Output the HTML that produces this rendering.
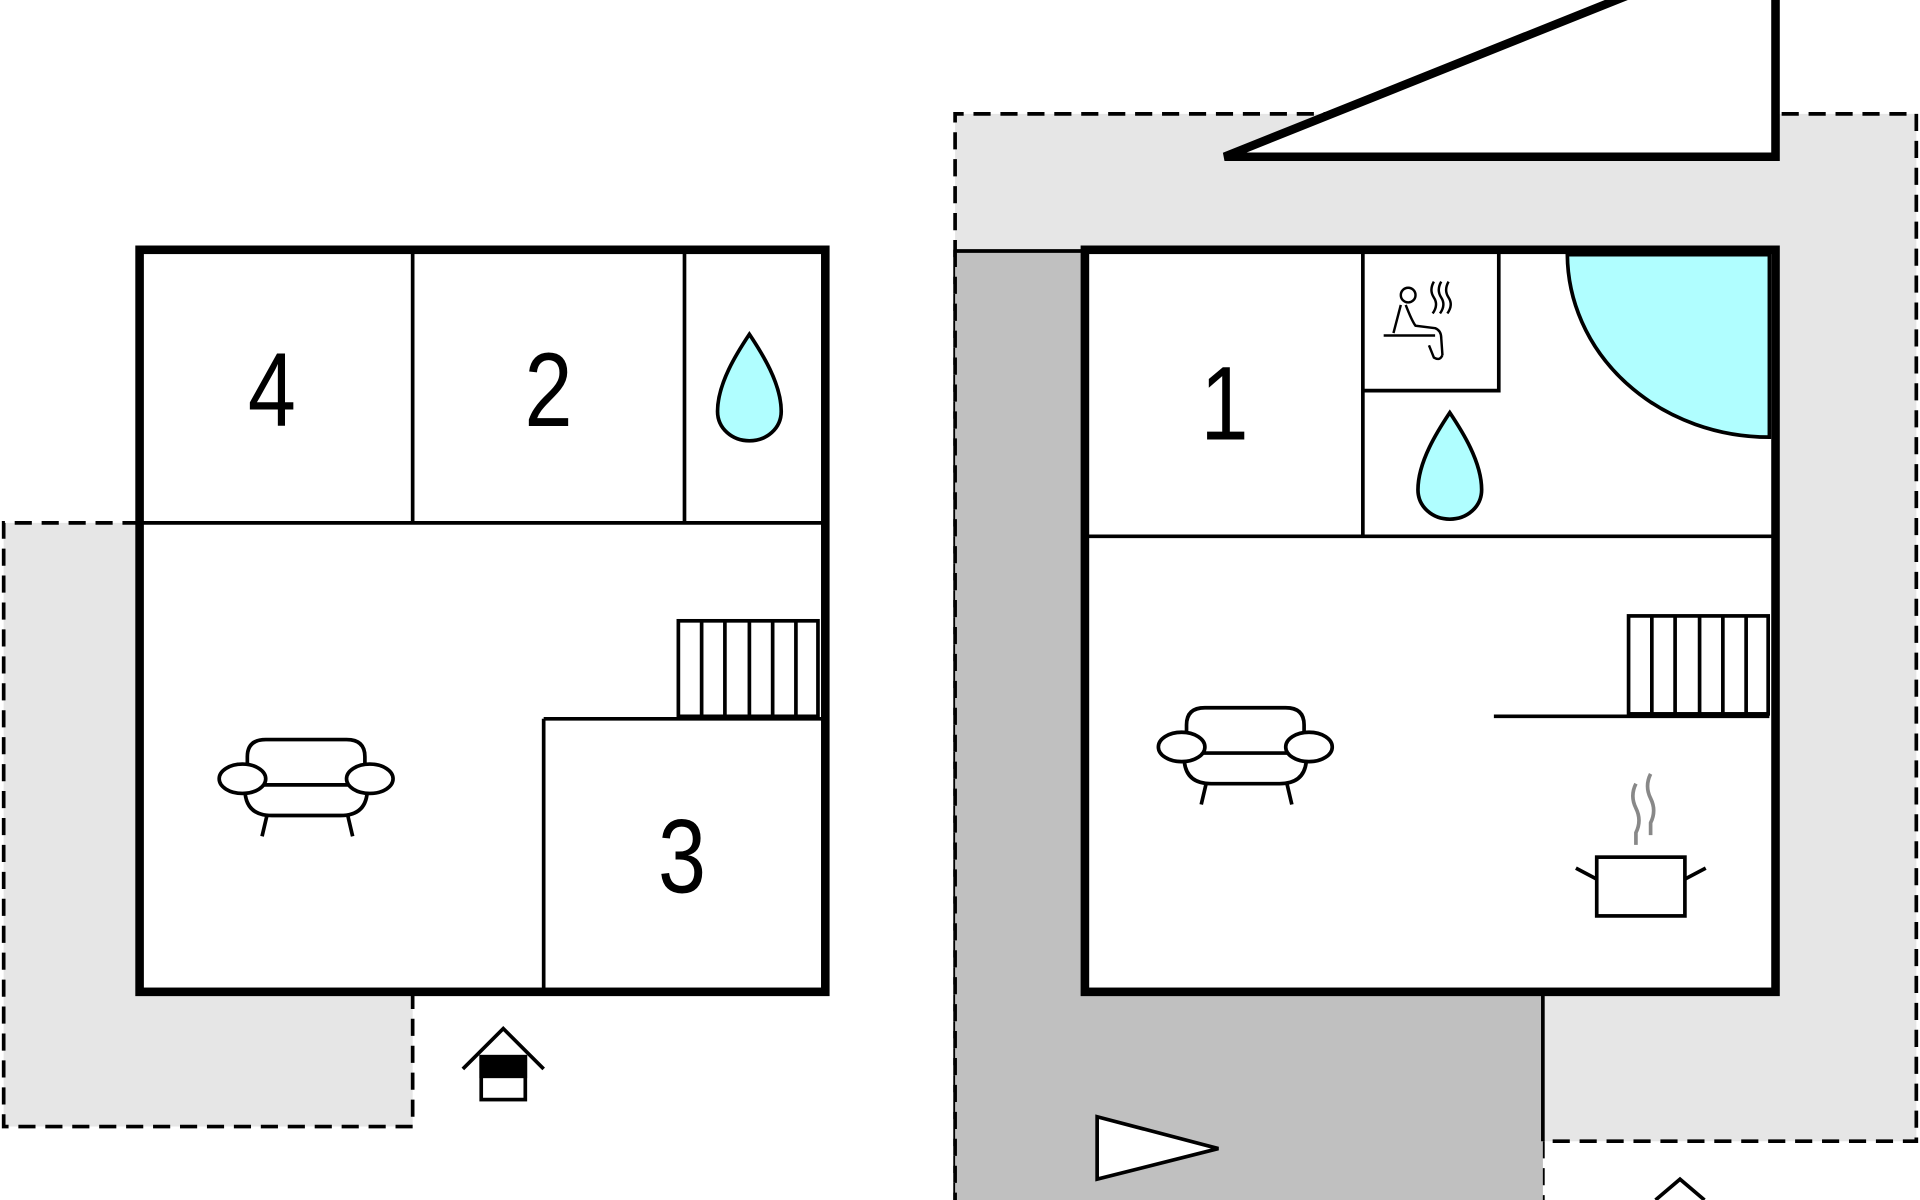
<!DOCTYPE html>
<html><head><meta charset="utf-8"><style>html,body{margin:0;padding:0;background:#fff}svg{display:block}</style></head>
<body>
<svg width="1920" height="1200" viewBox="0 0 1568 980" xmlns="http://www.w3.org/2000/svg">
<defs>
<g id="sofa" fill="none" stroke="#000" stroke-width="3">
<path d="M-48,-6 L-48,-18 Q-48,-32 -33,-32 L33,-32 Q48,-32 48,-18 L48,-6"/>
<path d="M-50,8 Q-50,30 -28,30 L28,30 Q50,30 50,8"/>
<line x1="-36" y1="5" x2="36" y2="5"/>
<ellipse cx="-52" cy="0" rx="19" ry="12" fill="#fff"/>
<ellipse cx="52" cy="0" rx="19" ry="12" fill="#fff"/>
<line x1="-32" y1="30" x2="-36" y2="47"/>
<line x1="34" y1="30" x2="38" y2="47"/>
</g>
<path id="drop" d="M0,-45 C10,-30 26,-5 26,18 C26,32 14,42 0,42 C-14,42 -26,32 -26,18 C-26,-5 -10,-30 0,-45 Z" fill="#b0feff" stroke="#000" stroke-width="3"/>
</defs>

<polygon points="3,427 114,427 114,810 337,810 337,920 3,920" fill="#e6e6e6"/>
<polyline points="114,427 3,427 3,920 337,920 337,810" fill="none" stroke="#000" stroke-width="3" stroke-dasharray="14,8"/>

<polygon points="780,93 1565,93 1565,932 1260,932 1260,980 780,980" fill="#e6e6e6"/>
<polyline points="780,980 780,93 1565,93 1565,932 1260,932 1260,980" fill="none" stroke="#000" stroke-width="3" stroke-dasharray="14,8"/>
<polygon points="780,204 886,204 886,810 1260,810 1260,980 780,980" fill="#c0c0c0"/>
<line x1="780" y1="205" x2="886" y2="205" stroke="#000" stroke-width="3"/>
<line x1="1260" y1="810" x2="1260" y2="932" stroke="#000" stroke-width="3"/>
<polyline points="780,204 780,980" fill="none" stroke="#000" stroke-width="3" stroke-dasharray="14,8"/>

<polygon points="1000,128 1450,128 1450,-10 1345,-10" fill="#fff" stroke="#000" stroke-width="7"/>

<rect x="114" y="204" width="560" height="606" fill="#fff"/>
<g stroke="#000" stroke-width="3" fill="none">
<line x1="114" y1="427" x2="674" y2="427"/>
<line x1="337" y1="204" x2="337" y2="427"/>
<line x1="559" y1="204" x2="559" y2="427"/>
<line x1="444" y1="587" x2="674" y2="587"/>
<line x1="444" y1="587" x2="444" y2="810"/>
<rect x="554" y="507" width="114" height="78"/>
<line x1="573" y1="507" x2="573" y2="585"/>
<line x1="592" y1="507" x2="592" y2="585"/>
<line x1="612" y1="507" x2="612" y2="585"/>
<line x1="631" y1="507" x2="631" y2="585"/>
<line x1="650" y1="507" x2="650" y2="585"/>
</g>
<rect x="114" y="204" width="560" height="606" fill="none" stroke="#000" stroke-width="7"/>
<use href="#drop" x="612" y="318"/>
<use href="#sofa" x="250" y="636"/>

<g stroke="#000" stroke-width="3" fill="none">
<polyline points="378,873 411,840 444,873"/>
<rect x="393" y="863" width="36" height="35" fill="#fff"/>
<rect x="393" y="863" width="36" height="16" fill="#000"/>
</g>

<rect x="886" y="204" width="564" height="606" fill="#fff"/>
<path d="M1280,208 A165,150 0 0 0 1445,357 L1445,208 Z" fill="#b0feff" stroke="#000" stroke-width="3"/>
<g stroke="#000" stroke-width="3" fill="none">
<line x1="886" y1="438" x2="1450" y2="438"/>
<line x1="1113" y1="204" x2="1113" y2="438"/>
<polyline points="1113,319 1224,319 1224,204"/>
<rect x="1330" y="503" width="114" height="80"/>
<line x1="1349" y1="503" x2="1349" y2="583"/>
<line x1="1368" y1="503" x2="1368" y2="583"/>
<line x1="1388" y1="503" x2="1388" y2="583"/>
<line x1="1407" y1="503" x2="1407" y2="583"/>
<line x1="1426" y1="503" x2="1426" y2="583"/>
<line x1="1220" y1="585" x2="1445" y2="585"/>
</g>
<rect x="886" y="204" width="564" height="606" fill="none" stroke="#000" stroke-width="7"/>
<use href="#drop" x="1184" y="382"/>
<use href="#sofa" x="1017" y="610"/>

<g stroke="#000" stroke-width="2" fill="none">
<circle cx="1150" cy="241" r="6"/>
<path d="M1144,249 L1138,272 M1148,249 Q1153,262 1156,266 L1172,268 Q1177,270 1177,276 L1178,290"/>
<line x1="1130" y1="274" x2="1172" y2="274"/>
<path d="M1167,282 L1171,292 Q1176,295 1178,290"/>
<path d="M1171,230 q-4,7 0,13 q4,6 -1,13 M1177,230 q-4,7 0,13 q4,6 -1,13 M1183,230 q-4,7 0,13 q4,6 -1,13"/>
</g>

<g stroke="#000" stroke-width="3" fill="none">
<rect x="1304" y="700" width="72" height="48" fill="#fff"/>
<line x1="1304" y1="718" x2="1287" y2="709"/>
<line x1="1376" y1="718" x2="1393" y2="709"/>
</g>
<g stroke="#888" stroke-width="3" fill="none">
<path d="M1336,640 q-5,10 0,20 q5,10 0,20 l0,10"/>
<path d="M1348,632 q-5,10 0,20 q5,10 0,20 l0,10"/>
</g>

<polygon points="896,912 995,938 896,963" fill="#fff" stroke="#000" stroke-width="3"/>
<polyline points="1352,980 1372,963 1392,980" fill="none" stroke="#000" stroke-width="3"/>

<g font-family="Liberation Sans, sans-serif" font-size="86" text-anchor="middle">
<text transform="translate(222,348) scale(0.82,1)">4</text>
<text transform="translate(448,348) scale(0.82,1)">2</text>
<text transform="translate(557,729) scale(0.82,1)">3</text>
<text transform="translate(1000,359) scale(0.82,1)">1</text>
</g>
</svg>
</body></html>
